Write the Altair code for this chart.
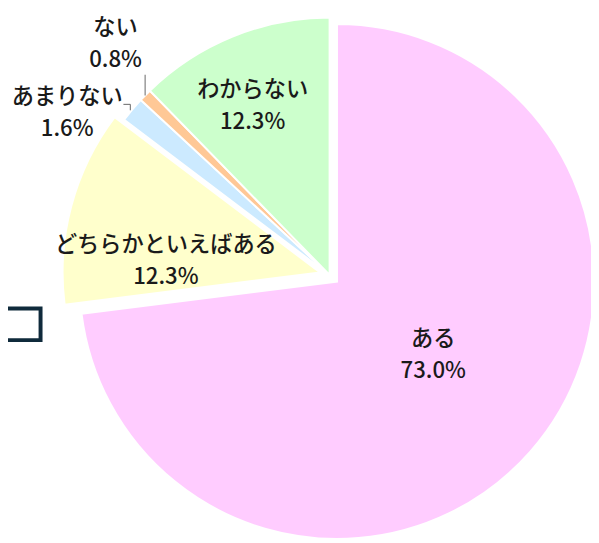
import math
import altair as alt
import pandas as pd

# ---- data ----
categories = ["ある", "どちらかといえばある", "あまりない", "ない", "わからない"]
values = [73.0, 12.3, 1.6, 0.8, 12.3]
colors = ["#FFCCFF", "#FFFFCC", "#CCEAFF", "#FFC896", "#CCFFCC"]

# ---- layout (chart pixel coordinates) ----
W, H = 591, 535
CX, CY, R = 326, 267, 261
explode = {"ある": 10, "どちらかといえばある": 10}
label_pos = {  # centre of the first text line
    "ある": (431, 332),
    "どちらかといえばある": (160, 237),
    "あまりない": (60, 87),
    "ない": (109, 17),
    "わからない": (248, 80),
}

total = sum(values)
rows = []
acc = 0.0
for c, v, col in zip(categories, values, colors):
    start, end = acc, acc + v
    acc = end
    mid = (start + end) / 2 / total * 2 * math.pi
    e = explode.get(c, 0)
    lx, ly = label_pos[c]
    rows.append(dict(cat=c, value=v, start=start, end=end, color=col,
                     cx=CX + e * math.sin(mid), cy=CY - e * math.cos(mid),
                     label=f"{c}\n{v:.1f}%", lx=lx, ly=ly))
df = pd.DataFrame(rows)

theta_scale = alt.Scale(domain=[0, total], range=[0, 2 * math.pi])

arcs = alt.Chart(df).mark_arc(outerRadius=R, stroke="white", strokeWidth=2).encode(
    theta=alt.Theta("start:Q", scale=theta_scale),
    theta2="end:Q",
    x=alt.X("cx:Q", scale=None, axis=None),
    y=alt.Y("cy:Q", scale=None, axis=None),
    color=alt.Color("color:N", scale=None, legend=None),
)

labels = alt.Chart(df).mark_text(
    font="Noto Sans CJK JP", fontSize=22.5, fontWeight=500, color="#1a1a1a",
    lineBreak="\n", lineHeight=32, align="center", baseline="middle",
).encode(
    x=alt.X("lx:Q", scale=None, axis=None),
    y=alt.Y("ly:Q", scale=None, axis=None),
    text="label:N",
)

segs = pd.DataFrame([
    dict(x=139, y=64, x2=139, y2=85),
    dict(x=117, y=94, x2=124, y2=94),
    dict(x=124, y=94, x2=124, y2=100),
])
leaders = alt.Chart(segs).mark_rule(color="#666666", strokeWidth=1).encode(
    x=alt.X("x:Q", scale=None, axis=None),
    y=alt.Y("y:Q", scale=None, axis=None),
    x2="x2:Q", y2="y2:Q",
)

box = alt.Chart(pd.DataFrame({"k": [0]})).mark_rect(
    fill="white", stroke="#0f2a3b", strokeWidth=4
).encode(x=alt.value(-20), x2=alt.value(33), y=alt.value(301), y2=alt.value(333))

chart = alt.layer(arcs, labels, leaders, box).properties(
    width=W, height=H, padding=0, autosize=alt.AutoSizeParams(type="none")
).configure_view(stroke=None)

chart.save("out.html", embed_options={"renderer": "svg", "actions": False})
